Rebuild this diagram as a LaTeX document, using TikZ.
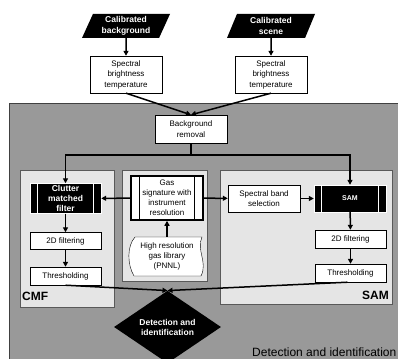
\documentclass[tikz,border=0pt]{standalone}
\usepackage{fontspec}
\setmainfont{Liberation Sans}
\usetikzlibrary{shapes.geometric,arrows.meta}

\definecolor{darkbg}{gray}{0.6}
\definecolor{panelbg}{gray}{0.9}

\tikzset{
  box/.style={draw, fill=white, thin, align=center, inner sep=1pt,
    font=\fontsize{8}{10.5}\selectfont},
  blackbox/.style={draw=white, fill=black, text=white, align=center, inner sep=1pt,
    font=\fontsize{8.5}{9.7}\selectfont\bfseries},
  input/.style={trapezium, trapezium left angle=60, trapezium right angle=120,
    trapezium stretches body, fill=black, text=white, align=center, inner sep=0pt,
    minimum width=88pt, minimum height=24pt, font=\fontsize{8.5}{11}\selectfont\bfseries},
  panel/.style={fill=panelbg, draw=gray!70!black, thin},
  flow/.style={line width=1.5pt, -{Triangle[length=5pt,width=5pt]}},
}

\begin{document}
\begin{tikzpicture}[x=1pt,y=-1pt]
\useasboundingbox (0,0) rectangle (398,358);
%\draw[step=10,gray,very thin] (0,0) grid (398,358);

\fill[white] (0,0) rectangle (398,358);

\filldraw[fill=darkbg,draw=gray!50!black] (9,103) rectangle (402,362);

\filldraw[panel] (20,170) rectangle (114,307);
\filldraw[panel] (122,170) rectangle (207,281);
\filldraw[panel] (220,170) rectangle (392,304);

\node[input] (calbg) at (126,26) {Calibrated\\background};
\node[input] (calsc) at (271,26) {Calibrated\\scene};

\node[box, minimum width=72pt, minimum height=37pt] (sbt1) at (126,74.5) {Spectral\\brightness\\temperature};
\node[box, minimum width=72pt, minimum height=37pt] (sbt2) at (271,74.5) {Spectral\\brightness\\temperature};

\node[box, minimum width=72pt, minimum height=28pt] (bgrem) at (191,129) {Background\\removal};
\coordinate (split) at (191,155);

\node[blackbox, minimum width=71pt, minimum height=30pt] (clutter) at (65.5,198.5) {Clutter\\matched\\filter};
\draw[white, line width=1.2pt] ([xshift=8pt]clutter.north west) -- ([xshift=8pt]clutter.south west);
\draw[white, line width=1.2pt] ([xshift=-8pt]clutter.north east) -- ([xshift=-8pt]clutter.south east);
\node[box, minimum width=71pt, minimum height=17pt] (cfilt) at (65.5,241) {2D filtering};
\node[box, minimum width=71pt, minimum height=18pt] (cthr) at (65.5,276) {Thresholding};

\node[box, line width=1.5pt, minimum width=72pt, minimum height=44pt, font=\fontsize{8}{10}\selectfont] (gassig) at (167,198) {Gas\\signature with\\instrument\\resolution};
\draw[line width=1.2pt] ([xshift=9pt]gassig.north west) -- ([xshift=9pt]gassig.south west);
\draw[line width=1.2pt] ([xshift=-9pt]gassig.north east) -- ([xshift=-9pt]gassig.south east);

\filldraw[fill=white, thin] (135,237) -- (202,237) .. controls (196,250) and (208,262) .. (201,276)
  -- (134,276) .. controls (127,264) and (127,246) .. (135,237);
\node[align=center, minimum width=72pt, minimum height=39pt, inner sep=0pt, font=\fontsize{8}{10}\selectfont] (gaslib) at (167,256.5) {High resolution\\gas library\\(PNNL)};

\node[box, minimum width=72pt, minimum height=27pt] (band) at (264,198.5) {Spectral band\\selection};
\node[blackbox, minimum width=72pt, minimum height=27pt, font=\fontsize{7}{9}\selectfont\bfseries] (sam) at (350,198.5) {SAM};
\draw[white, line width=1.2pt] ([xshift=8pt]sam.north west) -- ([xshift=8pt]sam.south west);
\draw[white, line width=1.2pt] ([xshift=-8pt]sam.north east) -- ([xshift=-8pt]sam.south east);
\node[box, minimum width=71pt, minimum height=18pt] (sfilt) at (350.5,239) {2D filtering};
\node[box, minimum width=71pt, minimum height=18pt] (sthr) at (350.5,273) {Thresholding};

\node[diamond, fill=black, text=white, align=center, inner sep=0pt, minimum width=107pt, minimum height=56pt,
  font=\fontsize{8.5}{10}\selectfont\bfseries] (detect) at (167.5,327) {Detection and\\identification};

\node[anchor=west, inner sep=0pt, font=\fontsize{12}{14}\selectfont\bfseries] (cmflabel) at (22,296.5) {CMF};
\node[anchor=east, inner sep=0pt, font=\fontsize{12}{14}\selectfont\bfseries] (samlabel) at (389,295) {SAM};
\node[anchor=east, inner sep=0pt, font=\fontsize{12}{14}\selectfont] (title) at (396.5,352) {Detection and identification};

\draw[flow] (calbg) -- (sbt1);
\draw[flow] (calsc) -- (sbt2);
\draw[flow] (sbt1.south) -- (bgrem.north);
\draw[flow] (sbt2.south) -- (bgrem.north);
\draw[line width=1.5pt] (bgrem.south) -- (split);
\draw[flow] (split) -| (clutter.north);
\draw[flow] (split) -| (sam.north);

\draw[flow] (clutter) -- (cfilt);
\draw[flow] (cfilt) -- (cthr);
\draw[flow] (gassig) -- (clutter);
\draw[flow] (gassig) -- (band);
\draw[flow] (band) -- (sam);
\draw[flow] (gaslib) -- (gassig);
\draw[flow] (sam) -- (sfilt);
\draw[flow] (sfilt) -- (sthr);

\draw[flow] (cthr.south) -- (detect.north);
\draw[flow] ([xshift=-3pt]sthr.south) -- (detect.north);

\end{tikzpicture}
\end{document}
